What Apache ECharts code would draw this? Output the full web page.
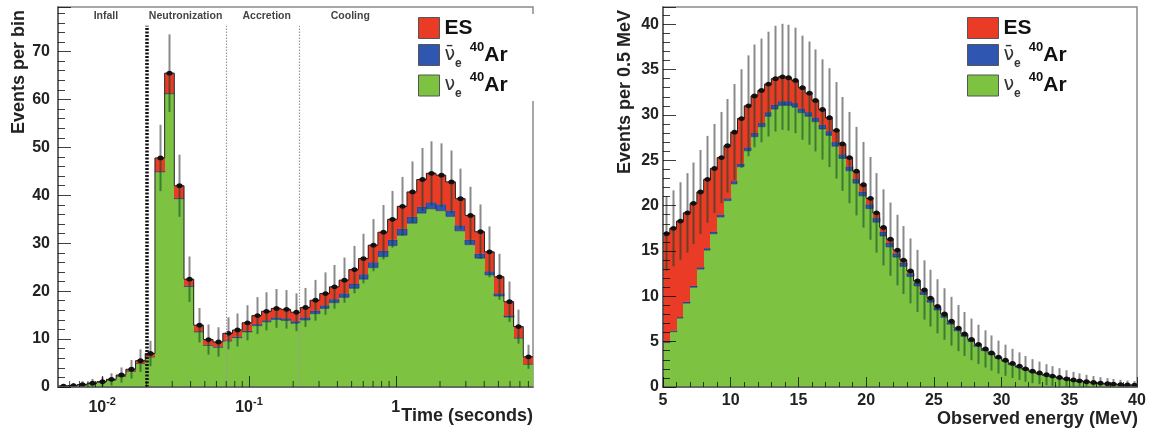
<!DOCTYPE html>
<html>
<head>
<meta charset="utf-8">
<script src="https://cdn.jsdelivr.net/npm/echarts@6/dist/echarts.min.js"></script>
<style>
  html, body { margin: 0; background: #fff; }
  #main { width: 1156px; height: 432px; }
</style>
</head>
<body>
<div id="main"></div>
<script>
// ---- left panel: events per (log) time bin ----
var tMin = 0.005, tMax = 8.6;
var timeTotal = [0.2, 0.3, 0.5, 0.8, 1.1, 1.6, 2.5, 3.7, 5.5, 7.0,
  47.8, 65.5, 42.0, 22.5, 12.9, 9.9, 9.4, 11.2, 11.9, 13.4,
  14.9, 15.8, 16.4, 16.2, 15.6, 16.6, 18.1, 19.5, 20.9, 22.3,
  24.5, 26.8, 29.6, 32.3, 35.0, 37.7, 40.7, 43.3, 44.6, 44.2,
  42.8, 39.3, 35.8, 32.4, 28.2, 23.0, 17.8, 12.6, 6.3];
var timeES = [0.02, 0.03, 0.05, 0.08, 0.1, 0.15, 0.25, 0.4, 0.6, 0.7,
  2.8, 4.2, 2.6, 1.4, 1.3, 1.1, 1.0, 1.5, 1.4, 1.7,
  1.8, 1.9, 1.9, 1.9, 1.9, 2.1, 2.2, 2.5, 2.6, 2.8,
  3.0, 3.3, 3.6, 3.9, 4.3, 4.7, 5.2, 5.7, 6.1, 6.1,
  6.0, 5.6, 5.1, 4.6, 4.1, 3.5, 2.9, 2.3, 1.5];
var timeNuebar = [0, 0, 0, 0, 0, 0, 0, 0, 0, 0,
  0.1, 0.1, 0.1, 0.1, 0.1, 0.1, 0.1, 0.1, 0.2, 0.2,
  0.3, 0.3, 0.4, 0.4, 0.4, 0.5, 0.6, 0.6, 0.7, 0.8,
  0.9, 1.0, 1.1, 1.2, 1.2, 1.3, 1.3, 1.3, 1.3, 1.3,
  1.2, 1.1, 1.0, 0.9, 0.7, 0.5, 0.3, 0.1, 0.0];
var phaseNames = ['Infall', 'Neutronization', 'Accretion', 'Cooling'];
var phaseLabelAt = [0.0106, 0.037, 0.132, 0.49];
var phaseLines = [0.02, 0.07, 0.22];
var logMinorTicks = [0.006, 0.007, 0.008, 0.009, 0.02, 0.03, 0.04, 0.05, 0.06, 0.07, 0.08, 0.09,
  0.2, 0.3, 0.4, 0.5, 0.6, 0.7, 0.8, 0.9, 2, 3, 4, 5, 6, 7, 8];

// ---- right panel: events per 0.5 MeV ----
var eMin = 5, eMax = 40, eBin = 0.5;
var energyTotal = [16.9, 17.5, 18.3, 19.2, 20.25, 21.5, 22.9, 24.1, 25.3, 26.6,
  28.1, 29.6, 31.0, 32.1, 32.7, 33.4, 34.0, 34.2, 34.1, 33.8,
  33.0, 32.4, 31.6, 30.6, 29.7, 28.3, 26.8, 25.3, 23.8, 22.3,
  20.8, 19.2, 17.6, 16.3, 15.1, 14.0, 12.8, 11.7, 10.7, 9.8,
  8.9, 8.05, 7.25, 6.5, 5.85, 5.25, 4.7, 4.2, 3.75, 3.3,
  2.95, 2.6, 2.3, 2.0, 1.75, 1.55, 1.35, 1.2, 1.05, 0.9,
  0.78, 0.68, 0.58, 0.5, 0.43, 0.37, 0.32, 0.27, 0.23, 0.2];
var energyES = [11.9, 11.3, 10.6, 9.8, 9.1, 8.3, 7.6, 7.0, 6.3, 5.8,
  5.4, 5.0, 4.6, 4.1, 3.6, 3.1, 2.9, 2.7, 2.6, 2.5,
  2.3, 2.1, 1.9, 1.7, 1.5, 1.3, 1.15, 1.0, 0.88, 0.77,
  0.67, 0.58, 0.5, 0.43, 0.37, 0.32, 0.27, 0.23, 0.2, 0.17,
  0.15, 0.13, 0.11, 0.1, 0.09, 0.08, 0.07, 0.06, 0.05, 0.05,
  0.04, 0.04, 0.03, 0.03, 0.03, 0.02, 0.02, 0.02, 0.02, 0.01,
  0.01, 0.01, 0.01, 0.01, 0.01, 0.01, 0.01, 0.01, 0.01, 0.01];
var energyNuebar = [0.1, 0.1, 0.1, 0.15, 0.15, 0.2, 0.2, 0.2, 0.25, 0.25,
  0.3, 0.3, 0.35, 0.4, 0.4, 0.45, 0.45, 0.45, 0.45, 0.45,
  0.45, 0.45, 0.45, 0.45, 0.45, 0.45, 0.45, 0.45, 0.45, 0.45,
  0.45, 0.45, 0.45, 0.42, 0.4, 0.38, 0.35, 0.32, 0.3, 0.28,
  0.26, 0.24, 0.22, 0.2, 0.18, 0.16, 0.15, 0.13, 0.12, 0.11,
  0.1, 0.09, 0.08, 0.07, 0.06, 0.05, 0.05, 0.04, 0.04, 0.03,
  0.03, 0.03, 0.02, 0.02, 0.02, 0.02, 0.01, 0.01, 0.01, 0.01];

var RED = '#ea3b26', BLUE = '#2f56b0', GREEN = '#7ec242';
var FONT = '"Liberation Sans", Arial, sans-serif';

// bin edges
var timeEdges = [];
var lstep = Math.log10(tMax / tMin) / timeTotal.length;
for (var i = 0; i <= timeTotal.length; i++) timeEdges.push(tMin * Math.pow(10, i * lstep));
var energyEdges = [];
for (var i = 0; i <= energyTotal.length; i++) energyEdges.push(eMin + i * eBin);

function buildLayers(edges, total, es, nb, isLog) {
  var out = { nue: [], nb: [], es: [], err: [] };
  for (var i = 0; i < total.length; i++) {
    var x0 = edges[i], x1 = edges[i + 1];
    var g = total[i] - es[i] - nb[i];
    out.nue.push([x0, x1, 0, g]);
    out.nb.push([x0, x1, g, g + nb[i]]);
    out.es.push([x0, x1, g + nb[i], total[i]]);
    var xc = isLog ? Math.sqrt(x0 * x1) : (x0 + x1) / 2;
    out.err.push([xc, total[i], Math.sqrt(total[i]), x0, x1, i ? total[i - 1] : 0]);
  }
  return out;
}
var L = buildLayers(timeEdges, timeTotal, timeES, timeNuebar, true);
var R = buildLayers(energyEdges, energyTotal, energyES, energyNuebar, false);

function rectRender(fill, stroke) {
  return function (params, api) {
    var a = api.coord([api.value(0), api.value(3)]);
    var b = api.coord([api.value(1), api.value(2)]);
    var x = Math.round(a[0]);
    return {
      type: 'rect',
      shape: { x: x, y: a[1], width: Math.round(b[0]) - x, height: b[1] - a[1] },
      style: { fill: fill, stroke: stroke || null, lineWidth: 0.6 }
    };
  };
}

function errRender(params, api) {
  var xc = api.value(0), t = api.value(1), e = api.value(2);
  var x0 = api.value(3), x1 = api.value(4), pt = api.value(5);
  var top = api.coord([xc, t + e]), mid = api.coord([xc, t]), low = api.coord([xc, Math.max(t - e, 0)]);
  var l0 = api.coord([x0, pt]), l1 = api.coord([x0, t]), r1 = api.coord([x1, t]);
  var cx = Math.round(mid[0]) + 0.5;
  return {
    type: 'group',
    children: [
      { type: 'line', shape: { x1: cx, y1: mid[1], x2: cx, y2: top[1] }, style: { stroke: '#8a8a8a', lineWidth: 2 } },
      { type: 'line', shape: { x1: cx, y1: low[1], x2: cx, y2: mid[1] }, style: { stroke: 'rgba(0,70,40,0.55)', lineWidth: 2 } },
      { type: 'polyline', shape: { points: [l0, l1, r1] }, style: { stroke: '#222', lineWidth: 1, fill: null } },
      { type: 'ellipse', shape: { cx: cx, cy: mid[1], rx: 3.2, ry: 2.4 }, style: { fill: '#111' } }
    ]
  };
}

function histSeries(idx, layers) {
  var base = { type: 'custom', coordinateSystem: 'cartesian2d', xAxisIndex: idx, yAxisIndex: idx, clip: true, silent: true,
    encode: { x: [0, 1], y: [2, 3] } };
  return [
    Object.assign({}, base, { name: 'nueAr', itemStyle: { color: GREEN }, renderItem: rectRender(GREEN), data: layers.nue, z: 2 }),
    Object.assign({}, base, { name: 'nuebarAr', itemStyle: { color: BLUE }, renderItem: rectRender(BLUE, '#1c2c66'), data: layers.nb, z: 2 }),
    Object.assign({}, base, { name: 'ES', itemStyle: { color: RED }, renderItem: rectRender(RED), data: layers.es, z: 2 }),
    { type: 'custom', coordinateSystem: 'cartesian2d', xAxisIndex: idx, yAxisIndex: idx, clip: true, silent: true,
      encode: { x: 0, y: 1 }, renderItem: errRender, data: layers.err, z: 3 }
  ];
}

var series = histSeries(0, L).concat(histSeries(1, R));

// log minor ticks on the time axis
series.push({
  type: 'custom', coordinateSystem: 'cartesian2d', xAxisIndex: 0, yAxisIndex: 0, silent: true, z: 6,
  data: logMinorTicks.map(function (v) { return [v, 0]; }),
  renderItem: function (params, api) {
    var p = api.coord([api.value(0), 0]);
    return { type: 'line', shape: { x1: p[0], y1: p[1], x2: p[0], y2: p[1] - 6 }, style: { stroke: 'rgba(0,0,0,0.7)', lineWidth: 1 } };
  }
});

// phase labels and boundaries
series.push({
  type: 'custom', coordinateSystem: 'cartesian2d', xAxisIndex: 0, yAxisIndex: 0, silent: true, z: 4,
  data: phaseLabelAt.map(function (v) { return [v, 77.3]; }),
  renderItem: function (params, api) {
    var p = api.coord([api.value(0), api.value(1)]);
    return { type: 'text', x: p[0], y: p[1],
      style: { text: phaseNames[params.dataIndex], fill: '#444', font: 'bold 10.5px ' + FONT,
        align: 'center', verticalAlign: 'middle', textAlign: 'center', textVerticalAlign: 'middle' } };
  },
  markLine: {
    silent: true, symbol: ['none', 'none'], label: { show: false },
    data: phaseLines.map(function (v, i) {
      var ls = i === 0 ? { color: '#111', width: 3.5, type: [2, 1.5] } : { color: '#999', width: 1.2, type: [1.5, 1.5] };
      return [{ coord: [v, 0], lineStyle: ls }, { coord: [v, 75.4] }];
    })
  }
});

var tickLabel = { fontFamily: FONT, fontWeight: 'bold', fontSize: 16, color: '#222' };

function logLabel(v) {
  var p = Math.round(Math.log10(v));
  if (p === 0) return '{m|1}';
  return '{m|10}{s|' + p + '}';
}

var legendRich = {
  b: { fontFamily: FONT, fontWeight: 'bold', fontSize: 21, color: '#111', lineHeight: 29 },
  nu: { fontFamily: '"DejaVu Sans", sans-serif', fontSize: 19, color: '#333', lineHeight: 29 },
  sub: { fontFamily: FONT, fontWeight: 'bold', fontSize: 12, color: '#333', verticalAlign: 'bottom', lineHeight: 14 },
  g: { width: 8, fontSize: 10 },
  sup: { fontFamily: FONT, fontWeight: 'bold', fontSize: 13, color: '#111', verticalAlign: 'top', lineHeight: 14 }
};
function legendLabel(name) {
  if (name === 'ES') return '{b|ES}';
  if (name === 'nuebarAr') return '{nu|ν̄}{sub|e}{g| }{sup|40}{b|Ar}';
  return '{nu|ν}{sub|e}{g| }{sup|40}{b|Ar}';
}
function legendAt(left, w) {
  return {
    orient: 'vertical', left: left, top: 14, padding: [3, 45, 1, 6], backgroundColor: '#fff',
    itemWidth: w, itemHeight: 21, itemGap: 1.5, selectedMode: false, icon: 'rect',
    itemStyle: { borderColor: '#555', borderWidth: 1 },
    data: ['ES', 'nuebarAr', 'nueAr'], formatter: legendLabel, textStyle: { rich: legendRich }
  };
}

var option = {
  animation: false,
  grid: [
    { left: 58, top: 7, width: 475, height: 380, show: true, borderColor: '#8a8a8a', borderWidth: 1.5 },
    { left: 663, top: 7, width: 474, height: 380, show: true, borderColor: '#8a8a8a', borderWidth: 1.5 }
  ],
  xAxis: [
    { gridIndex: 0, type: 'log', logBase: 10, min: tMin, max: tMax, z: 5,
      axisLine: { lineStyle: { color: '#555', width: 1.5 } },
      axisTick: { inside: true, length: 11, lineStyle: { color: 'rgba(0,0,0,0.7)' } },
      splitLine: { show: false },
      axisLabel: { showMinLabel: false, showMaxLabel: false, margin: 9, formatter: logLabel,
        rich: { m: Object.assign({ lineHeight: 20, verticalAlign: 'bottom' }, tickLabel),
                s: { fontFamily: FONT, fontWeight: 'bold', fontSize: 11, color: '#222', verticalAlign: 'top', lineHeight: 12 } } } },
    { gridIndex: 1, type: 'value', min: eMin, max: eMax, interval: 5, z: 5,
      axisLine: { lineStyle: { color: '#555', width: 1.5 } },
      axisTick: { inside: true, length: 10, lineStyle: { color: 'rgba(0,0,0,0.7)' } },
      minorTick: { show: true, splitNumber: 5, length: 5, lineStyle: { color: 'rgba(0,0,0,0.7)' } },
      splitLine: { show: false },
      axisLabel: Object.assign({ margin: 6 }, tickLabel) }
  ],
  yAxis: [
    { gridIndex: 0, type: 'value', min: 0, max: 79.3, interval: 10, z: 5,
      axisLine: { lineStyle: { color: '#555', width: 1.5 } },
      axisTick: { inside: true, length: 13, lineStyle: { color: 'rgba(0,0,0,0.75)' } },
      minorTick: { show: true, splitNumber: 5, length: 7, lineStyle: { color: 'rgba(0,0,0,0.75)' } },
      splitLine: { show: false },
      axisLabel: Object.assign({ margin: 8, showMaxLabel: false }, tickLabel) },
    { gridIndex: 1, type: 'value', min: 0, max: 41.9, interval: 5, z: 5,
      axisLine: { lineStyle: { color: '#555', width: 1.5 } },
      axisTick: { inside: true, length: 13, lineStyle: { color: 'rgba(0,0,0,0.75)' } },
      minorTick: { show: true, splitNumber: 5, length: 7, lineStyle: { color: 'rgba(0,0,0,0.75)' } },
      splitLine: { show: false },
      axisLabel: Object.assign({ margin: 4, showMaxLabel: false }, tickLabel) }
  ],
  legend: [legendAt(412, 21), legendAt(961, 31)],
  graphic: [
    { type: 'text', x: 19, y: 10, rotation: Math.PI / 2,
      style: { text: 'Events per bin', font: 'bold 18px ' + FONT, fill: '#222', align: 'right', verticalAlign: 'middle', textAlign: 'right', textVerticalAlign: 'middle' } },
    { type: 'text', x: 625, y: 10, rotation: Math.PI / 2,
      style: { text: 'Events per 0.5 MeV', font: 'bold 18px ' + FONT, fill: '#222', align: 'right', verticalAlign: 'middle', textAlign: 'right', textVerticalAlign: 'middle' } },
    { type: 'text', x: 533, y: 416,
      style: { text: 'Time (seconds)', font: 'bold 18px ' + FONT, fill: '#222', align: 'right', verticalAlign: 'middle', textAlign: 'right', textVerticalAlign: 'middle' } },
    { type: 'text', x: 1138, y: 419,
      style: { text: 'Observed energy (MeV)', font: 'bold 18px ' + FONT, fill: '#222', align: 'right', verticalAlign: 'middle', textAlign: 'right', textVerticalAlign: 'middle' } }
  ],
  series: series
};

var myChart = echarts.init(document.getElementById('main'));
myChart.setOption(option);
window.addEventListener('resize', function () { myChart.resize(); });
</script>
</body>
</html>
